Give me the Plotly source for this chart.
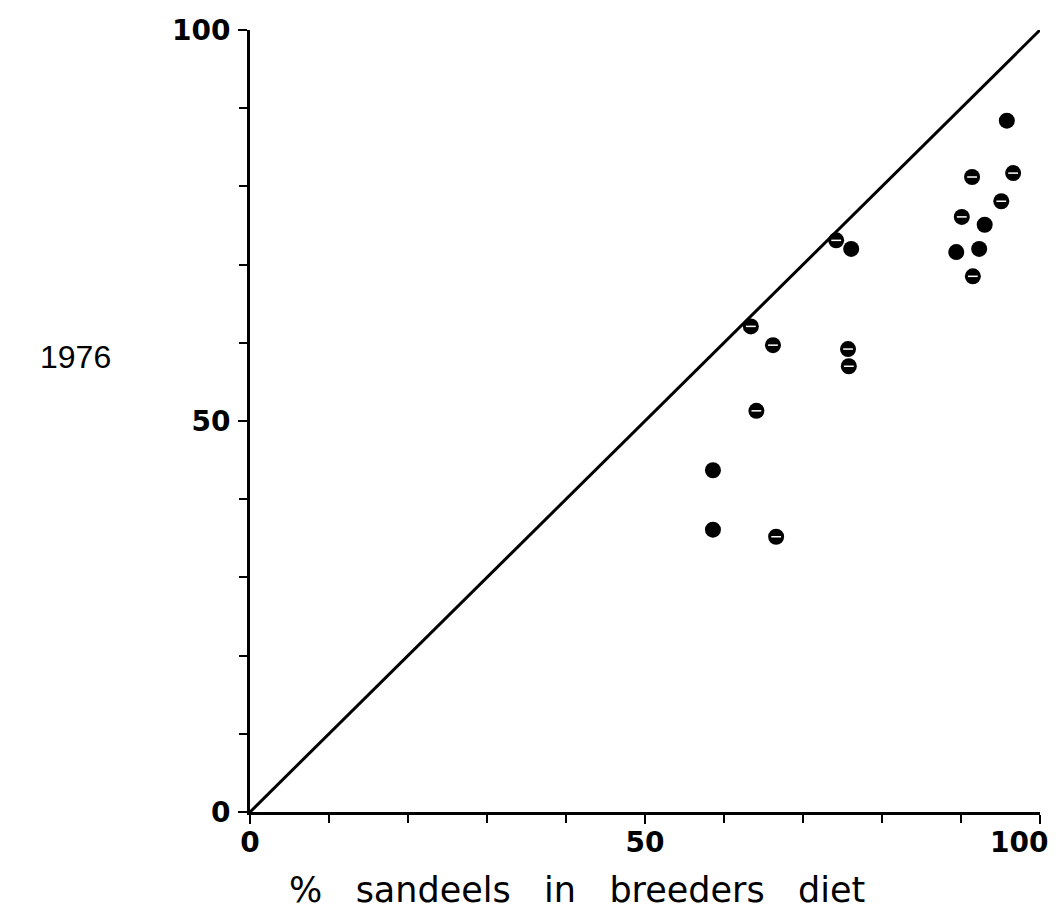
import plotly.graph_objects as go

# % sandeels in breeders diet (x) vs 1976 value (y)
solid_x = [58.6, 58.6, 76.1, 89.4, 92.3, 93.0, 95.8]
solid_y = [43.7, 36.1, 72.0, 71.6, 72.0, 75.1, 88.4]
dash_x = [66.6, 64.1, 63.4, 66.2, 74.2, 75.7, 75.8, 91.4, 96.6, 95.1, 90.1, 91.5]
dash_y = [35.2, 51.3, 62.1, 59.7, 73.1, 59.2, 57.0, 81.2, 81.7, 78.1, 76.1, 68.5]
line_x = [0, 100]
line_y = [0, 100]
tick_vals = [0, 50, 100]
y_tick_text = ["0", "50", "100"]
x_tick_text = ["0", "50", ""]   # the "100" label is placed inside the page edge below
x_end_label = "100"

TICK_FONT = dict(family="DejaVu Sans", size=28, color="black", weight="bold")

fig = go.Figure()
fig.add_trace(go.Scatter(x=line_x, y=line_y, mode="lines",
                         line=dict(color="black", width=3), showlegend=False))
fig.add_trace(go.Scatter(x=solid_x + dash_x, y=solid_y + dash_y, mode="markers",
                         marker=dict(symbol="circle", size=16, color="black"),
                         showlegend=False, cliponaxis=False))
fig.add_trace(go.Scatter(x=dash_x, y=dash_y, mode="markers",
                         marker=dict(symbol="line-ew", size=7,
                                     line=dict(color="white", width=1.5)),
                         showlegend=False, cliponaxis=False))

axis_common = dict(
    range=[0, 100], showgrid=False, zeroline=False, automargin=False,
    showline=True, linecolor="black", linewidth=3,
    tickmode="array", tickvals=tick_vals,
    ticks="outside", ticklen=9, tickwidth=2, tickcolor="black",
    minor=dict(dtick=10, tick0=0, ticks="outside", ticklen=8, tickwidth=2, tickcolor="black"),
    tickfont=TICK_FONT,
    ticklabeloverflow="allow",
)

fig.update_xaxes(**axis_common, ticktext=x_tick_text, ticklabelstandoff=-6)
fig.update_yaxes(**axis_common, ticktext=y_tick_text, ticklabelstandoff=2)

# page body has an 8px default margin, so the figure is drawn 8px smaller
fig.update_layout(
    width=1052, height=910,
    margin=dict(l=242, r=20, t=22, b=106),
    plot_bgcolor="white", paper_bgcolor="white",
    annotations=[
        dict(text=x_end_label, xref="x", yref="paper",
             x=tick_vals[-1], y=0, xanchor="right", yanchor="top",
             xshift=10, yshift=-12, showarrow=False, font=TICK_FONT),
        dict(text="1976", xref="paper", yref="paper",
             x=-0.221, y=0.582, xanchor="center", yanchor="middle",
             showarrow=False,
             font=dict(family="Liberation Sans", size=32, color="black")),
        dict(text="%   sandeels   in   breeders   diet", xref="paper", yref="paper",
             x=0.414, y=-0.10, xanchor="center", yanchor="middle",
             showarrow=False,
             font=dict(family="DejaVu Sans", size=35, color="black")),
    ],
)

fig.write_html("out.html")
